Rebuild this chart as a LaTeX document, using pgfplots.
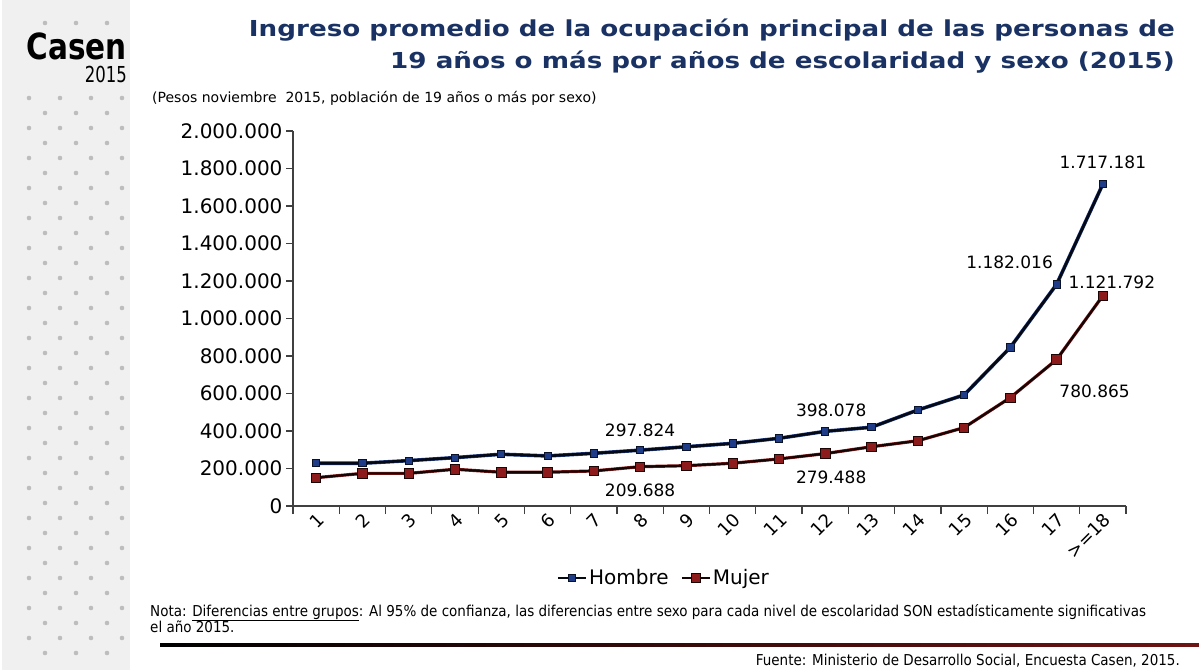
\documentclass[border=0pt]{standalone}
\usepackage{pgfplots}
\usepackage{pgfplotstable}
\pgfplotsset{compat=1.18}
\usepackage{fontspec}
\setmainfont{DejaVu Sans}
\newfontfamily\condfont{DejaVu Sans Condensed}
\definecolor{navy}{HTML}{1A3263}
\definecolor{hombre}{HTML}{1F3C88}
\definecolor{mujer}{HTML}{8E1B1B}
\definecolor{side}{HTML}{F0F0F0}
\definecolor{dotc}{HTML}{BDBDBD}
\newcommand\fs[1]{\fontsize{#1}{#1}\selectfont}

\pgfplotstableread{
x y
1 228000
2 228000
3 242000
4 258000
5 276000
6 267000
7 281000
8 297824
9 316000
10 334000
11 361000
12 398078
13 420000
14 512000
15 592000
16 846000
17 1182016
18 1717181
}\hombretab
\pgfplotstableread{
x y
1 151000
2 174000
3 174000
4 196000
5 180000
6 180000
7 187000
8 209688
9 215000
10 228000
11 251000
12 279488
13 316000
14 348000
15 418000
16 578000
17 780865
18 1121792
}\mujertab

\begin{document}
\begin{tikzpicture}[x=1pt,y=1pt]
\fill[white] (0,0) rectangle (1199,670);
\fill[side] (2,0) rectangle (130,670);
\foreach \xx in {45,76,107}{\fill[dotc] (\xx,647) circle (2.3);}
\foreach \r in {0,...,37}{
  \pgfmathtruncatemacro\odd{mod(\r,2)}
  \pgfmathsetmacro\yy{572-15*\r}
  \ifnum\odd=0
    \foreach \xx in {29,60,91,122}{\fill[dotc] (\xx,\yy) circle (2.3);}
  \else
    \foreach \xx in {45,76,107}{\fill[dotc] (\xx,\yy) circle (2.3);}
  \fi
}
\node[anchor=base east, inner sep=0, font=\fs{36}\bfseries] at (127,610) {\scalebox{0.82}[1]{Casen}};
\node[anchor=base east, inner sep=0, font=\fs{22}] at (127,587) {\scalebox{0.75}[1]{2015}};

\node[anchor=north east, align=right, inner sep=0, xscale=1.19, font=\fontsize{22}{32}\selectfont\bfseries, text=navy] at (1175,651)
 {Ingreso promedio de la ocupación principal de las personas de\\19 años o más por años de escolaridad y sexo (2015)};
\node[anchor=base west, inner sep=0, font=\fs{14}] at (152,567) {(Pesos noviembre\ \ 2015, población de 19 años o más por sexo)};

\begin{axis}[
  at={(293pt,164pt)}, anchor=south west, scale only axis,
  width=833pt, height=375pt,
  xmin=0.5, xmax=18.5, ymin=0, ymax=2000000,
  axis lines=left,
  axis line style={-, draw=gray!50!black, line width=1.2pt},
  tick align=outside,
  major tick length=7pt, minor tick length=8pt,
  tick style={draw=gray!50!black, line width=1.2pt},
  xtick={1,...,18},
  xticklabels={1,2,3,4,5,6,7,8,9,10,11,12,13,14,15,16,17,{>=18}},
  minor xtick={0.5,1.5,...,18.5},
  major x tick style={draw=none},
  xticklabel style={rotate=45, anchor=east, font=\fs{18}, yshift=-6pt, xshift=4pt},
  ytick={0,200000,...,2000000},
  scaled y ticks=false,
  yticklabel style={font=\fs{20}, /pgf/number format/.cd, fixed, 1000 sep={.}, assume math mode=true},
  clip=false,
  legend style={at={(0.445,-0.192)}, anchor=center, draw=none, fill=none,
    legend columns=2, font=\fs{20},
    /tikz/every even column/.append style={column sep=10pt}},
  legend image code/.code={\draw[#1] (0pt,0pt) -- (28pt,0pt);
     \draw[#1, mark repeat=1] plot coordinates {(14pt,0pt)};},
]
\addplot[forget plot, hombre, line width=3.6pt] table {\hombretab};
\addplot[black!85!hombre, line width=2.6pt, mark=square*, mark size=3.6pt,
  mark options={fill=hombre, draw=black!70!hombre, line width=0.8pt}] table {\hombretab};
\addlegendentry{Hombre}
\addplot[forget plot, mujer, line width=3.2pt] table {\mujertab};
\addplot[black!85!mujer, line width=2.2pt, mark=square*, mark size=4.7pt,
  mark options={fill=mujer, draw=black!80!mujer, line width=0.8pt}] table {\mujertab};
\addlegendentry{Mujer}

\node[font=\fs{17}, xshift=0pt, yshift=20pt] at (axis cs:8,297824) {297.824};
\node[font=\fs{17}, xshift=0pt, yshift=-24pt] at (axis cs:8,209688) {209.688};
\node[font=\fs{17}, xshift=6pt, yshift=21pt] at (axis cs:12,398078) {398.078};
\node[font=\fs{17}, xshift=6pt, yshift=-24pt] at (axis cs:12,279488) {279.488};
\node[font=\fs{17}, xshift=-47pt, yshift=22pt] at (axis cs:17,1182016) {1.182.016};
\node[font=\fs{17}, xshift=9pt, yshift=13pt] at (axis cs:18,1121792) {1.121.792};
\node[font=\fs{17}, xshift=38pt, yshift=-32pt] at (axis cs:17,780865) {780.865};
\node[font=\fs{17}, xshift=0pt, yshift=22pt] at (axis cs:18,1717181) {1.717.181};
\end{axis}

\node[anchor=base west, inner sep=0, font=\condfont\fs{15}] at (150,54) {Nota: \underline{Diferencias entre grupos}: Al 95\% de confianza, las diferencias entre sexo para cada nivel de escolaridad SON estadísticamente significativas};
\node[anchor=base west, inner sep=0, font=\condfont\fs{15}] at (150,38) {el año 2015.};
\shade[left color=black, right color={rgb,255:red,110;green,20;blue,20}] (160,23.5) rectangle (1199,26.5);
\node[anchor=base east, inner sep=0, font=\condfont\fs{15}] at (1180,5) {Fuente: Ministerio de Desarrollo Social, Encuesta Casen, 2015.};
\end{tikzpicture}
\end{document}
